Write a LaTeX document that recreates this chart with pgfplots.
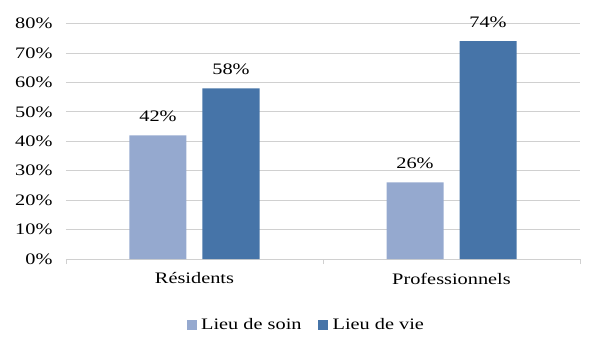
\documentclass[border=0pt]{standalone}
\usepackage{fontspec}
\setmainfont[FakeStretch=1.27]{Liberation Serif}
\usepackage{pgfplots}
\pgfplotsset{compat=1.18}
\definecolor{lightb}{HTML}{95A9CF}
\definecolor{darkb}{HTML}{4674A8}
\definecolor{gridc}{HTML}{D0D0D0}
\begin{document}
\begin{tikzpicture}
\path[use as bounding box] (-66pt,-98pt) rectangle (537pt,259pt);
\begin{axis}[
  at={(0,0)}, anchor=south west,
  scale only axis, width=514pt, height=235.5pt,
  xmin=-0.5, xmax=1.5, ymin=0, ymax=80,
  ybar=16pt, bar width=57pt,
  axis lines*=left,
  x axis line style={gridc, line width=0.8pt},
  y axis line style={draw=none},
  xtick={0,1}, xticklabels={Résidents,Professionnels},
  minor xtick={-0.5,0.5,1.5},
  major x tick style={draw=none},
  minor x tick style={gridc, line width=0.8pt},
  minor tick length=5pt,
  xtick align=outside,
  ytick={0,10,...,80},
  ytick style={draw=none},
  yticklabel={\pgfmathprintnumber{\tick}\%},
  /pgf/number format/assume math mode=true,
  ymajorgrids, grid style={gridc, line width=0.8pt},
  tick label style={font=\fontsize{16}{18}\selectfont},
  yticklabel style={xshift=-10pt},
  xticklabel style={yshift=-6pt},
  nodes near coords={\pgfmathprintnumber{\pgfplotspointmeta}\%},
  every node near coord/.append style={font=\fontsize{16}{18}\selectfont, anchor=base, yshift=14pt, black},
  legend columns=2,
  legend style={at={(0.47,-0.28)}, anchor=center, draw=none, font=\fontsize{16}{18}\selectfont,
    /tikz/every even column/.append style={column sep=12pt},
    nodes={inner xsep=4.5pt}},
  legend image code/.code={\fill[#1] (0pt,-5pt) rectangle (10pt,5pt);},
]
\addplot[fill=lightb, draw=none] coordinates {(0,42) (1,26)};
\addplot[fill=darkb, draw=none] coordinates {(0,58) (1,74)};
\legend{Lieu de soin, Lieu de vie}
\end{axis}
\end{tikzpicture}
\end{document}
